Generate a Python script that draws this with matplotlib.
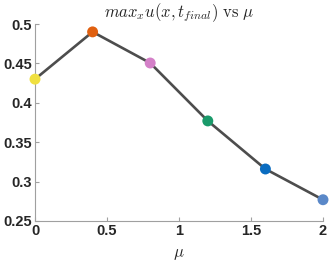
import matplotlib
matplotlib.use("Agg")
import matplotlib.pyplot as plt

mu = [0.0, 0.4, 0.8, 1.2, 1.6, 2.0]
umax = [0.430, 0.490, 0.4505, 0.377, 0.316, 0.277]
colors = ["#F0E040", "#E06010", "#D480C8", "#1A9A6A", "#0A6CC0", "#5A88C8"]
xticks = [0, 0.5, 1, 1.5, 2]
xticklabels = ["0", "0.5", "1", "1.5", "2"]
yticks = [0.25, 0.3, 0.35, 0.4, 0.45, 0.5]
yticklabels = ["0.25", "0.3", "0.35", "0.4", "0.45", "0.5"]

plt.rcParams['mathtext.fontset'] = 'cm'
plt.rcParams['font.family'] = ['Liberation Sans', 'DejaVu Sans']
fig = plt.figure(figsize=(3.29, 2.63), dpi=100)
ax = fig.add_axes([35/329, 1-221/263, 288/329, 197/263])
ax.plot(mu, umax, color="#4D4D4D", lw=1.9, zorder=2)
ax.scatter(mu, umax, c=colors, s=62, zorder=3, edgecolors='none', clip_on=False)
ax.set_xlim(0, 2)
ax.set_ylim(0.25, 0.5)
ax.set_xticks(xticks)
ax.set_xticklabels(xticklabels)
ax.set_yticks(yticks)
ax.set_yticklabels(yticklabels)
for s in ['top', 'right']:
    ax.spines[s].set_visible(False)
for s in ['left', 'bottom']:
    ax.spines[s].set_color('#A0A0A0')
    ax.spines[s].set_linewidth(0.8)
ax.tick_params(direction='in', length=3, color='#A0A0A0', width=0.8, pad=2,
               labelsize=10.5, labelcolor='#262626')
for lab in ax.get_xticklabels() + ax.get_yticklabels():
    lab.set_fontweight('bold')
ax.set_title(r"$max_x u(x,t_{final})\ \mathrm{vs}\ \mu$", fontsize=12, color='#262626', pad=4)
ax.set_xlabel(r"$\mu$", fontsize=12, color='#262626', labelpad=7)
fig.savefig("out.png", dpi=100)
